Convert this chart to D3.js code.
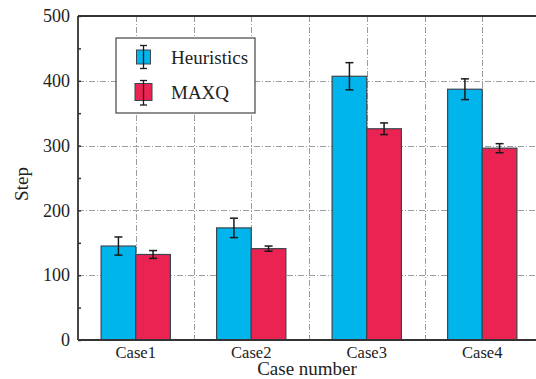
<!DOCTYPE html>
<html>
<head>
<meta charset="utf-8">
<script src="https://cdn.jsdelivr.net/npm/d3@7"></script>
<style>
  html, body { margin: 0; padding: 0; background: #fff; }
  svg { display: block; }
  svg text { font-family: "Liberation Serif", "DejaVu Serif", serif !important; fill: #222; }
</style>
</head>
<body>
<svg id="chart" width="536" height="379"></svg>
<script>
// Average steps per case, with error half-widths
const cases = ["Case1", "Case2", "Case3", "Case4"];
const seriesNames = ["Heuristics", "MAXQ"];
const heuristicsSteps = [145, 173, 407, 387];
const heuristicsErr = [14, 15, 21, 16];
const maxqSteps = [132, 141, 326, 296];
const maxqErr = [6, 4, 9, 7];
const yTicks = [0, 100, 200, 300, 400, 500];
const yMinorTicks = [50, 150, 250, 350, 450];
const colors = ["#00b5ec", "#ea2352"];

const svg = d3.select("#chart");
const margin = { left: 78, right: 540, top: 16, bottom: 340 };
const serif = "Liberation Serif";

const x = d3.scaleBand().domain(cases).range([margin.left, margin.right]);
const xSub = d3.scaleBand().domain(seriesNames)
  .range([x.bandwidth() * 0.2, x.bandwidth() * 0.8]);
const y = d3.scaleLinear().domain([0, 500]).range([margin.bottom, margin.top]);

const series = [
  { name: seriesNames[0], values: heuristicsSteps, err: heuristicsErr, color: colors[0] },
  { name: seriesNames[1], values: maxqSteps, err: maxqErr, color: colors[1] }
];

// Grid: horizontal at major ticks, vertical at band centres and edges
const grid = svg.append("g").attr("stroke", "#9a9ea3").attr("stroke-width", 1)
  .attr("stroke-dasharray", "6,2,1,2");
yTicks.slice(1, -1).forEach(v => {
  grid.append("line").attr("x1", margin.left).attr("x2", 536)
    .attr("y1", Math.round(y(v)) + 0.5).attr("y2", Math.round(y(v)) + 0.5);
});
const vx = [];
cases.forEach((c, i) => {
  vx.push(x(c) + x.bandwidth() / 2);
  if (i > 0) vx.push(x(c));
});
vx.forEach(px => {
  grid.append("line").attr("x1", Math.round(px) + 0.5).attr("x2", Math.round(px) + 0.5)
    .attr("y1", margin.top).attr("y2", margin.bottom);
});

// Bars
series.forEach(s => {
  svg.append("g").selectAll("rect").data(cases).join("rect")
    .attr("x", c => x(c) + xSub(s.name))
    .attr("y", (c, i) => y(s.values[i]))
    .attr("width", xSub.bandwidth())
    .attr("height", (c, i) => y(0) - y(s.values[i]))
    .attr("fill", s.color)
    .attr("stroke", "#3a4650")
    .attr("stroke-width", 1.2);
});

// Error bars
series.forEach(s => {
  const g = svg.append("g").attr("stroke", "#1a1a1a").attr("stroke-width", 1.5);
  cases.forEach((c, i) => {
    const cx = x(c) + xSub(s.name) + xSub.bandwidth() / 2;
    const hi = y(s.values[i] + s.err[i]);
    const lo = y(s.values[i] - s.err[i]);
    g.append("line").attr("x1", cx).attr("x2", cx).attr("y1", hi).attr("y2", lo);
    g.append("line").attr("x1", cx - 4).attr("x2", cx + 4).attr("y1", hi).attr("y2", hi);
    g.append("line").attr("x1", cx - 4).attr("x2", cx + 4).attr("y1", lo).attr("y2", lo);
  });
});

// Axes frame: left, bottom, top
const frame = svg.append("g").attr("stroke", "#333").attr("stroke-width", 1.8).attr("fill", "none");
frame.append("line").attr("x1", margin.left).attr("x2", margin.left).attr("y1", margin.top).attr("y2", margin.bottom);
frame.append("line").attr("x1", margin.left).attr("x2", 536).attr("y1", margin.bottom).attr("y2", margin.bottom);
frame.append("line").attr("x1", margin.left).attr("x2", 536).attr("y1", margin.top).attr("y2", margin.top);

// Y axis ticks and labels
const yAxis = d3.axisLeft(y).tickValues(yTicks).tickSizeInner(-3).tickSizeOuter(0).tickPadding(8);
const yg = svg.append("g").attr("transform", `translate(${margin.left},0)`).call(yAxis)
  .attr("font-family", serif);
yg.select(".domain").remove();
yg.selectAll(".tick line").attr("stroke", "#333").attr("stroke-width", 1.5);
yg.selectAll("text").style("font-family", serif).style("font-size", "18px").style("fill", "#222");
const yMinor = d3.axisLeft(y).tickValues(yMinorTicks).tickSizeInner(-3).tickSizeOuter(0).tickFormat("");
const ymg = svg.append("g").attr("transform", `translate(${margin.left},0)`).call(yMinor);
ymg.select(".domain").remove();
ymg.selectAll(".tick line").attr("stroke", "#333").attr("stroke-width", 1.5);

// X axis labels
const xAxis = d3.axisBottom(x).tickSize(0).tickPadding(6);
const xg = svg.append("g").attr("transform", `translate(0,${margin.bottom})`).call(xAxis)
  .attr("font-family", serif);
xg.select(".domain").remove();
xg.selectAll("text").style("font-family", serif).style("font-size", "16.5px").style("fill", "#222");

// Axis titles
svg.append("text").attr("x", 307).attr("y", 375).attr("text-anchor", "middle")
  .style("font-size", "19px").text("Case number");
svg.append("text").attr("transform", "translate(28,184) rotate(-90)")
  .attr("text-anchor", "middle").style("font-size", "19px").text("Step");

// Legend
const legend = svg.append("g");
legend.append("rect").attr("x", 116).attr("y", 38).attr("width", 139).attr("height", 75)
  .attr("fill", "#fff").attr("stroke", "#444").attr("stroke-width", 1.2);
series.forEach((s, i) => {
  const cy = 57 + i * 35;
  const gx = 143.5;
  const size = i === 0 ? 14 : 17;
  legend.append("rect").attr("x", gx - size / 2).attr("y", cy - size / 2)
    .attr("width", size).attr("height", size).attr("fill", s.color)
    .attr("stroke", "#3a4650").attr("stroke-width", 1);
  const hi = cy - 11.5, lo = cy + 11.5 + (i === 0 ? 0 : 1.5);
  const eg = legend.append("g").attr("stroke", "#1a1a1a").attr("stroke-width", 1.3);
  eg.append("line").attr("x1", gx).attr("x2", gx).attr("y1", hi).attr("y2", lo);
  eg.append("line").attr("x1", gx - 3.5).attr("x2", gx + 3.5).attr("y1", hi).attr("y2", hi);
  eg.append("line").attr("x1", gx - 3.5).attr("x2", gx + 3.5).attr("y1", lo).attr("y2", lo);
  legend.append("text").attr("x", 171).attr("y", cy + 6.5).style("font-size", "19px").text(s.name);
});
</script>
</body>
</html>
